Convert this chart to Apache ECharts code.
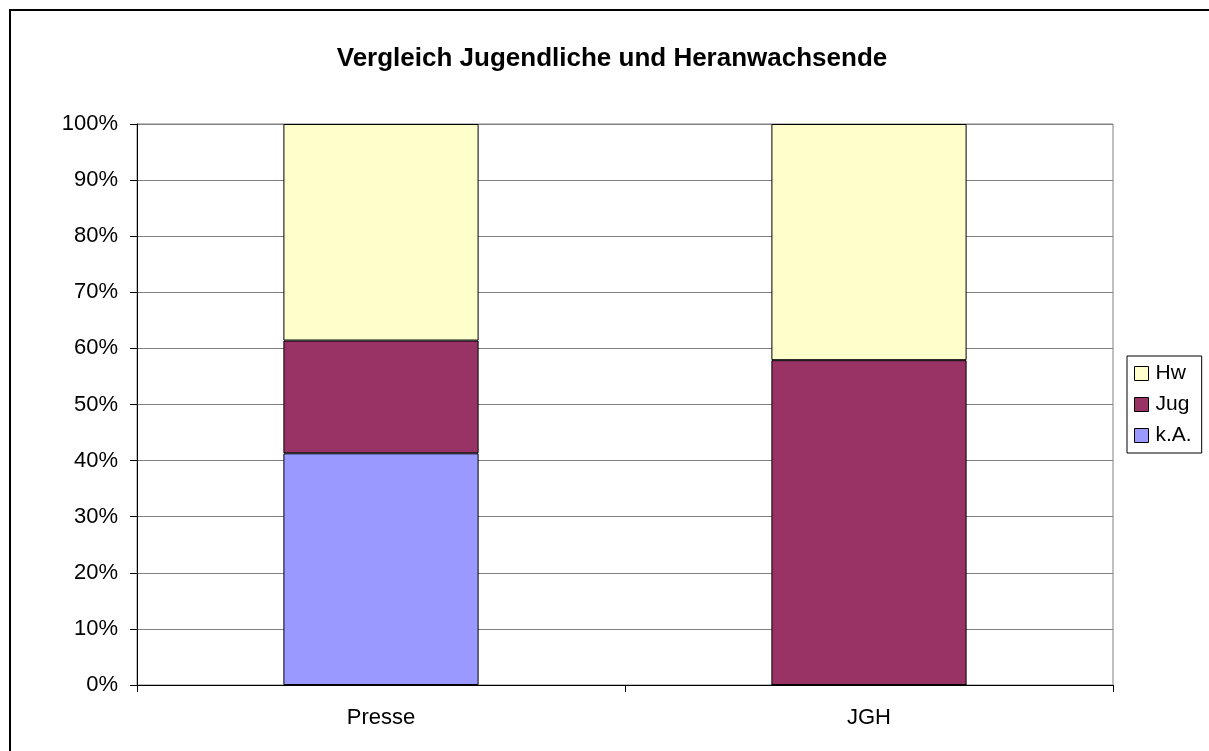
<!DOCTYPE html>
<html>
<head>
<meta charset="utf-8">
<script src="https://cdn.jsdelivr.net/npm/echarts@6/dist/echarts.min.js"></script>
<style>
html,body{margin:0;padding:0;background:#fff}
#chart{width:1209px;height:751px}
</style>
</head>
<body>
<div id="chart"></div>
<script>
// Werte (Anteile in %)
const categories = ["Presse", "JGH"]
const kaValues = [41.3, 0]
const jugValues = [20.1, 57.9]
const hwValues = [38.6, 42.1]
const legendNames = ["Hw", "Jug", "k.A."]

let myChart = echarts.init(document.getElementById("chart"))
let font = "Arial, 'Liberation Sans', sans-serif"

function barSeries(name, data, color){
  return {
    name: name,
    type: "bar",
    stack: "total",
    data: data,
    barWidth: "40%",
    itemStyle: { color: color, borderColor: "#000", borderWidth: 1 },
    emphasis: { disabled: true }
  }
}

myChart.setOption({
  animation: false,
  title: {
    text: "Vergleich Jugendliche und Heranwachsende",
    left: 607,
    textAlign: "center",
    top: 41,
    textStyle: { fontFamily: font, fontSize: 26, fontWeight: "bold", color: "#000" }
  },
  grid: {
    left: 137, right: 96, top: 124, bottom: 66,
    show: true, borderColor: "#808080", borderWidth: 1
  },
  legend: {
    data: legendNames,
    orient: "vertical",
    left: 1127,
    top: 356,
    itemWidth: 14,
    itemHeight: 14,
    itemGap: 10,
    padding: [7, 10, 7, 7],
    borderColor: "#000",
    borderWidth: 1,
    icon: "rect",
    itemStyle: { borderColor: "#000", borderWidth: 1 },
    textStyle: { fontFamily: font, fontSize: 21, color: "#000", padding: [0, 0, 0, 2] }
  },
  xAxis: {
    type: "category",
    data: categories,
    axisLine: { lineStyle: { color: "#000" } },
    axisTick: { show: true, length: 7, lineStyle: { color: "#000" } },
    axisLabel: { fontFamily: font, fontSize: 22, color: "#000", margin: 22 }
  },
  yAxis: {
    type: "value",
    min: 0,
    max: 100,
    interval: 10,
    axisLine: { show: true, lineStyle: { color: "#000" } },
    axisTick: { show: true, length: 7, lineStyle: { color: "#000" } },
    splitLine: { lineStyle: { color: "#808080" } },
    axisLabel: { formatter: "{value}%", fontFamily: font, fontSize: 22, color: "#000", margin: 19 }
  },
  graphic: [{
    type: "rect",
    shape: { x: 10, y: 10, width: 1300, height: 900 },
    style: { fill: "none", stroke: "#000", lineWidth: 2 },
    silent: true
  }],
  series: [
    barSeries("k.A.", kaValues, "#9999FF"),
    barSeries("Jug", jugValues, "#993366"),
    barSeries("Hw", hwValues, "#FFFFCC")
  ]
})
</script>
</body>
</html>
